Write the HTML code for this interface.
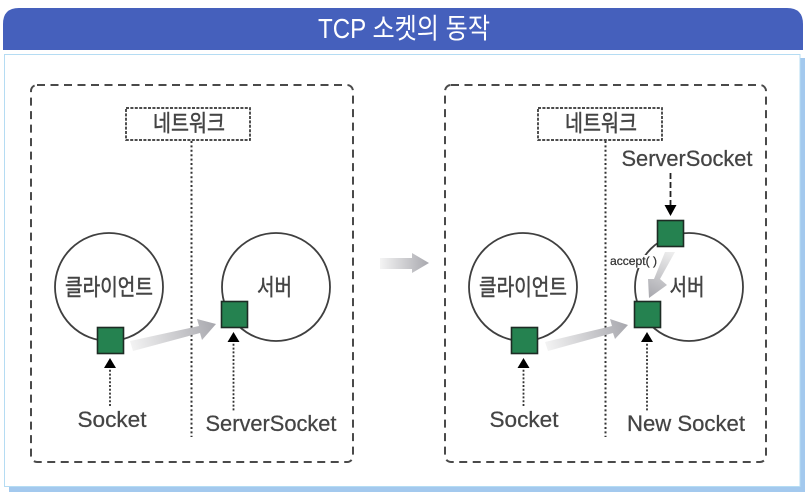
<!DOCTYPE html>
<html><head><meta charset="utf-8">
<style>
html,body{margin:0;padding:0;background:#fff}
svg{display:block;filter:blur(0.35px)}
text{font-family:"Liberation Sans","Noto Sans CJK KR",sans-serif;fill:#444}
.l{font-size:22px;stroke:#444;stroke-width:.25px}
.k{font-size:23px;stroke:#444;stroke-width:.45px}
</style></head>
<body>
<svg width="807" height="495" viewBox="0 0 807 495" xmlns="http://www.w3.org/2000/svg">
<defs>
<linearGradient id="g1" gradientUnits="userSpaceOnUse" x1="130" y1="346" x2="216" y2="324"><stop offset="0" stop-color="#f4f4f4"/><stop offset="1" stop-color="#a8a8ae"/></linearGradient>
<linearGradient id="g2" gradientUnits="userSpaceOnUse" x1="545" y1="346" x2="628" y2="325"><stop offset="0" stop-color="#f4f4f4"/><stop offset="1" stop-color="#a8a8ae"/></linearGradient>
<linearGradient id="g3" gradientUnits="userSpaceOnUse" x1="380" y1="263" x2="429" y2="263"><stop offset="0" stop-color="#f4f4f4"/><stop offset="1" stop-color="#a8a8ae"/></linearGradient>
<linearGradient id="g4" gradientUnits="userSpaceOnUse" x1="672" y1="252" x2="650" y2="298"><stop offset="0" stop-color="#eeeeee"/><stop offset="1" stop-color="#a8a8ae"/></linearGradient>
</defs>
<rect width="807" height="495" fill="#fff"/>
<!-- panel -->
<rect x="9" y="58" width="796" height="434" fill="#a3c9ee"/>
<rect x="4.500" y="54.500" width="795.500" height="432" fill="#fff" stroke="#b5dcf3" stroke-width="1"/>
<!-- title -->
<path d="M3 50V24Q3 8 19 8H787Q803 8 803 24V50Z" fill="#4560bc"/>
<text x="404" y="38" text-anchor="middle" font-size="28" style="fill:#fff" textLength="172" lengthAdjust="spacingAndGlyphs">TCP 소켓의 동작</text>

<!-- dashed frames -->
<g fill="none" stroke="#4a4a4a" stroke-width="2" stroke-dasharray="8 5.500">
<rect x="31" y="85" width="322" height="377" rx="6"/>
<rect x="445" y="85" width="321" height="377" rx="6"/>
</g>
<!-- network boxes -->
<g fill="#fff" stroke="#333" stroke-width="1.700" stroke-dasharray="3 1.400">
<rect x="126" y="108" width="124" height="32"/>
<rect x="538" y="108" width="124" height="32"/>
</g>
<text x="189" y="131" text-anchor="middle" class="k" font-size="21" textLength="72" lengthAdjust="spacingAndGlyphs">네트워크</text>
<text x="601" y="131" text-anchor="middle" class="k" font-size="21" textLength="72" lengthAdjust="spacingAndGlyphs">네트워크</text>
<!-- dotted separators -->
<g stroke="#333" stroke-width="2" stroke-dasharray="2 2.400">
<line x1="191.500" y1="141" x2="191.500" y2="437"/>
<line x1="605.500" y1="141" x2="605.500" y2="437"/>
</g>

<!-- circles -->
<g fill="none" stroke="#3f3f3f" stroke-width="1.800">
<circle cx="109" cy="287" r="54"/>
<circle cx="276" cy="287" r="54"/>
<circle cx="523" cy="287" r="54"/>
<circle cx="689" cy="287" r="54"/>
</g>
<text x="109" y="295" text-anchor="middle" class="k" textLength="88" lengthAdjust="spacingAndGlyphs">클라이언트</text>
<text x="523" y="295" text-anchor="middle" class="k" textLength="88" lengthAdjust="spacingAndGlyphs">클라이언트</text>
<text x="274.500" y="295" text-anchor="middle" class="k" textLength="35" lengthAdjust="spacingAndGlyphs">서버</text>
<text x="687" y="295" text-anchor="middle" class="k" textLength="35" lengthAdjust="spacingAndGlyphs">서버</text>

<!-- grey arrows -->
<polygon points="130,341 199,326 197,319 216,324 202,340 200,333 133,351" fill="url(#g1)"/>
<polygon points="545,342 612,326 610,319 628,325 615,339 613,333 548,351" fill="url(#g2)"/>
<polygon points="380,258 412,258 412,253 429,263 412,273 412,269 380,269" fill="url(#g3)"/>
<polygon points="665,252 675,252 660,279 667,285 649,298 648,279 654,279" fill="url(#g4)"/>
<rect x="609" y="254" width="50" height="14" fill="#fff" fill-opacity="0"/>
<rect x="636" y="255" width="21" height="13" fill="#fff"/>
<text x="610" y="265" font-size="12" textLength="47" lengthAdjust="spacingAndGlyphs" style="fill:#333;stroke:#333;stroke-width:.25px">accept( )</text>

<!-- green squares -->
<g fill="#258250" stroke="#1d2b24" stroke-width="1.600">
<rect x="97.500" y="327.500" width="26" height="26"/>
<rect x="221.500" y="301.500" width="26" height="26"/>
<rect x="511.500" y="327.500" width="26" height="26"/>
<rect x="657.500" y="220.500" width="26" height="26"/>
<rect x="634.500" y="301.500" width="26" height="26"/>
</g>

<!-- small pointer lines -->
<g stroke="#333" stroke-width="1.800" stroke-dasharray="2 1.800">
<line x1="110" y1="366" x2="110" y2="406"/>
<line x1="233.500" y1="340" x2="233.500" y2="411"/>
<line x1="523.500" y1="366" x2="523.500" y2="406"/>
<line x1="647" y1="340" x2="647" y2="411"/>
</g>
<line x1="670.500" y1="173" x2="670.500" y2="206" stroke="#222" stroke-width="1.800" stroke-dasharray="6 3"/>
<g fill="#000">
<polygon points="110,358 104,368 116,368"/>
<polygon points="233.500,332 227.500,342 239.500,342"/>
<polygon points="523.500,358 517.500,368 529.500,368"/>
<polygon points="647,332 641,342 653,342"/>
<polygon points="670.500,216 664.500,205 676.500,205"/>
</g>

<!-- labels -->
<text x="112" y="427" text-anchor="middle" class="l" textLength="69" lengthAdjust="spacingAndGlyphs">Socket</text>
<text x="271" y="431" text-anchor="middle" class="l" textLength="131" lengthAdjust="spacingAndGlyphs">ServerSocket</text>
<text x="524" y="427" text-anchor="middle" class="l" textLength="69" lengthAdjust="spacingAndGlyphs">Socket</text>
<text x="687" y="166" text-anchor="middle" class="l" textLength="131" lengthAdjust="spacingAndGlyphs">ServerSocket</text>
<text x="686" y="431" text-anchor="middle" class="l" textLength="118" lengthAdjust="spacingAndGlyphs">New Socket</text>
</svg>
</body></html>
